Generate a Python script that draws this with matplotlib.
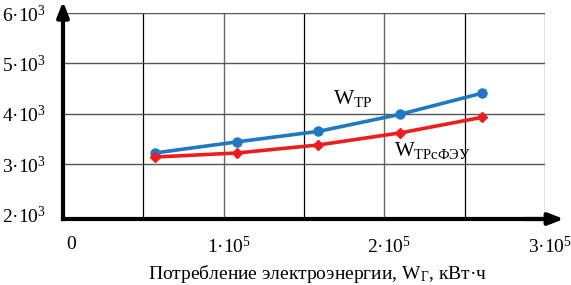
import matplotlib
matplotlib.use("Agg")
import matplotlib.pyplot as plt
import matplotlib.transforms as mtransforms
from matplotlib.ticker import FixedLocator, FixedFormatter

plt.rcParams['font.family'] = 'serif'
plt.rcParams['font.serif'] = ['Liberation Serif']
plt.rcParams['mathtext.fontset'] = 'custom'
plt.rcParams['mathtext.rm'] = 'Liberation Serif'
plt.rcParams['mathtext.it'] = 'Liberation Serif:italic'
plt.rcParams['mathtext.default'] = 'rm'

# Data
x_vals = [0.57e5, 1.08e5, 1.59e5, 2.10e5, 2.61e5]
w_tr = [3220, 3440, 3650, 3990, 4410]
w_tr_feu = [3140, 3220, 3380, 3620, 3930]

x_ticks = [0, 1e5, 2e5, 3e5]
x_ticklabels = ["0", "1·10$^5$", "2·10$^5$", "3·10$^5$"]
y_ticks = [2000, 3000, 4000, 5000, 6000]
y_ticklabels = ["2·10$^3$", "3·10$^3$", "4·10$^3$", "5·10$^3$", "6·10$^3$"]

fig = plt.figure(figsize=(5.71, 2.85), dpi=100)
ax = fig.add_axes([63/571, (285-219)/285, (545-63)/571, (219-13)/285])

ax.set_xlim(0, 3e5)
ax.set_ylim(1910, 6000)

# grid lines
for xv in [0.5e5, 1.5e5, 2.5e5]:
    ax.axvline(xv, color='black', lw=0.9, zorder=1)
for xv in [1e5, 2e5, 3e5]:
    ax.axvline(xv, color='#666666', lw=1.0, zorder=1)
for yv in [3000, 4000, 5000, 6000]:
    ax.axhline(yv, color='#555555', lw=1.0, zorder=1)

ax.plot(x_vals, w_tr, color='#1f78c1', lw=2.6, marker='o', ms=6.5, zorder=3)
ax.plot(x_vals, w_tr_feu, color='#ee1c1c', lw=2.6, marker='D', ms=5, zorder=3)

for s in ['top', 'right']:
    ax.spines[s].set_visible(False)
for s in ['left', 'bottom']:
    ax.spines[s].set_linewidth(3)
    ax.spines[s].set_zorder(4)

# arrows on axes
ax.annotate('', xy=(0, 1.07), xytext=(0, 0.95), xycoords='axes fraction',
            arrowprops=dict(arrowstyle='-|>,head_length=0.9,head_width=0.35', color='black', lw=3),
            annotation_clip=False)
ax.annotate('', xy=(1.045, 0), xytext=(0.95, 0), xycoords='axes fraction',
            arrowprops=dict(arrowstyle='-|>,head_length=0.9,head_width=0.35', color='black', lw=3),
            annotation_clip=False)

ax.xaxis.set_major_locator(FixedLocator(x_ticks))
ax.xaxis.set_major_formatter(FixedFormatter(x_ticklabels))
ax.yaxis.set_major_locator(FixedLocator(y_ticks))
ax.yaxis.set_major_formatter(FixedFormatter(y_ticklabels))
ax.tick_params(axis='both', length=0, labelsize=14)
ax.tick_params(axis='x', pad=12)
ax.tick_params(axis='y', pad=12)

# shift x tick labels slightly right as in the reference
offset = mtransforms.ScaledTranslation(5/100, 0, fig.dpi_scale_trans)
for i, lbl in enumerate(ax.get_xticklabels()):
    lbl.set_transform(lbl.get_transform() + (mtransforms.ScaledTranslation(8/100, 0, fig.dpi_scale_trans) if i == 0 else offset))

ax.text(1.68e5, 4200, "W$_{\\mathrm{ТР}}$", fontsize=15.5)
ax.text(2.06e5, 3170, "W$_{\\mathrm{ТРсФЭУ}}$", fontsize=15)

fig.text(318/571, 1 - 274/285, "Потребление электроэнергии, W$_{\\mathrm{Г}}$, кВт·ч",
         ha='center', va='center', fontsize=14)

fig.savefig("out.png", dpi=100)
